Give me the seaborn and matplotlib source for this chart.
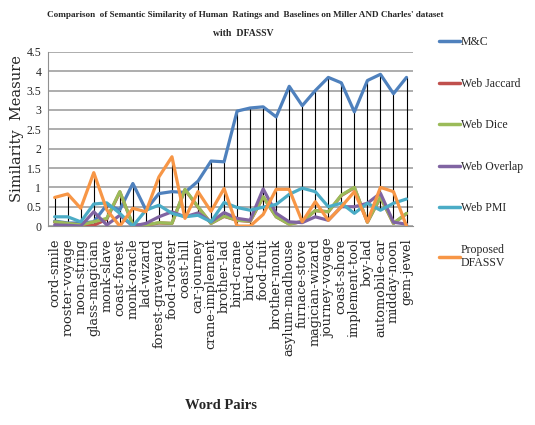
import numpy as np
import pandas as pd
import seaborn as sns
import matplotlib.pyplot as plt

pairs = ['cord-smile', 'rooster-voyage', 'noon-string', 'glass-magician', 'monk-slave',
         'coast-forest', 'monk-oracle', 'lad-wizard', 'forest-graveyard', 'food-rooster',
         'coast-hill', 'car-journey', 'crane-implement', 'brother-lad', 'bird-crane',
         'bird-cock', 'food-fruit', 'brother-monk', 'asylum-madhouse', 'furnace-stove',
         'magician-wizard', 'journey-voyage', 'coast-shore', 'implement-tool', 'boy-lad',
         'automobile-car', 'midday-noon', 'gem-jewel']

mc = [0.13, 0.08, 0.08, 0.11, 0.55, 0.42, 1.10, 0.42, 0.84, 0.89, 0.87, 1.16, 1.68, 1.66,
      2.97, 3.05, 3.08, 2.82, 3.61, 3.11, 3.50, 3.84, 3.70, 2.95, 3.76, 3.92, 3.42, 3.84]
web_jaccard = [0.10, 0.06, 0.03, 0.02, 0.18, 0.88, 0.03, 0.03, 0.08, 0.07, 0.94, 0.49, 0.07, 0.25,
               0.15, 0.12, 0.75, 0.24, 0.05, 0.12, 0.40, 0.37, 0.79, 0.99, 0.10, 0.74, 0.07, 0.32]
web_dice = [0.11, 0.07, 0.03, 0.11, 0.20, 0.89, 0.03, 0.03, 0.09, 0.07, 0.95, 0.50, 0.07, 0.26,
            0.15, 0.13, 0.76, 0.24, 0.05, 0.12, 0.40, 0.37, 0.80, 1.00, 0.10, 0.75, 0.07, 0.33]
web_overlap = [0.03, 0.02, 0.00, 0.37, 0.03, 0.28, 0.00, 0.07, 0.24, 0.37, 0.24, 0.34, 0.11, 0.35,
               0.20, 0.15, 0.96, 0.33, 0.11, 0.09, 0.24, 0.15, 0.50, 0.50, 0.59, 0.85, 0.10, 0.05]
web_pmi = [0.24, 0.24, 0.11, 0.57, 0.60, 0.33, 0.00, 0.41, 0.54, 0.33, 0.24, 0.28, 0.11, 0.61,
           0.48, 0.41, 0.49, 0.56, 0.82, 0.98, 0.89, 0.50, 0.59, 0.33, 0.59, 0.41, 0.59, 0.70]
dfassv = [0.74, 0.83, 0.46, 1.38, 0.42, 0.00, 0.46, 0.37, 1.27, 1.79, 0.20, 0.89, 0.38, 0.97,
          0.00, 0.00, 0.30, 0.95, 0.95, 0.11, 0.63, 0.15, 0.50, 0.89, 0.11, 1.00, 0.89, 0.00]

series = ['M&C', 'Web Jaccard', 'Web Dice', 'Web Overlap', 'Web PMI', 'Proposed\nDFASSV']
colors = ['#4F81BD', '#C0504D', '#9BBB59', '#8064A2', '#4BACC6', '#F79646']

wide = pd.DataFrame({'pair': pairs, series[0]: mc, series[1]: web_jaccard, series[2]: web_dice,
                     series[3]: web_overlap, series[4]: web_pmi, series[5]: dfassv})
df = wide.melt(id_vars='pair', var_name='method', value_name='score')

sns.set_style('white')
fig = plt.figure(figsize=(5.35, 4.25), dpi=100)
ax = fig.add_axes([0.09, 0.468, 0.682, 0.41])

# high-low lines like the excel chart
vals = wide[series].values
ax.vlines(np.arange(len(pairs)), vals.min(axis=1), vals.max(axis=1), color='black', lw=0.8, zorder=1)

sns.lineplot(data=df, x='pair', y='score', hue='method', hue_order=series,
             palette=colors, lw=2.3, sort=False, ax=ax, zorder=3)

ax.set_ylim(0, 4.5)
ax.set_xlim(-0.5, len(pairs) - 0.5)
ax.set_yticks(np.arange(0, 4.51, 0.5))
ax.set_yticklabels(['0', '0.5', '1', '1.5', '2', '2.5', '3', '3.5', '4', '4.5'],
                   family='Liberation Serif', fontsize=8.5)
ax.yaxis.grid(True, color='#a0a0a0', lw=1.2)
ax.set_axisbelow(True)
for s in ['top', 'right']:
    ax.spines[s].set_visible(False)
ax.spines['left'].set_color('#909090')
ax.spines['bottom'].set_color('#909090')
ax.tick_params(axis='y', length=3, color='#909090', pad=2)
ax.tick_params(axis='x', length=0, pad=9)
ax.set_xticks(range(len(pairs)))
ax.set_xticklabels(pairs, rotation=90, family='DejaVu Serif', fontsize=9.3)

ax.set_ylabel('Similarity  Measure', family='DejaVu Serif', fontsize=10.5)
ax.yaxis.set_label_coords(-0.065, 0.56)
ax.set_xlabel('')
fig.text(0.413, 0.047, 'Word Pairs', ha='center', va='center',
         family='Liberation Serif', fontweight='bold', fontsize=10.5)

fig.text(0.458, 0.965, "Comparison  of Semantic Similarity of Human  Ratings and  Baselines on Miller AND Charles' dataset",
         ha='center', va='center', family='Liberation Serif', fontweight='bold', fontsize=6.6)
fig.text(0.455, 0.922, 'with  DFASSV', ha='center', va='center',
         family='Liberation Serif', fontweight='bold', fontsize=7)

handles, labels = ax.get_legend_handles_labels()
leg = ax.legend(handles, labels, loc='upper left', bbox_to_anchor=(0.8, 0.94),
                bbox_transform=fig.transFigure, frameon=False, handlelength=1.8,
                handletextpad=0.1, labelspacing=2.5, prop={'family': 'Liberation Serif', 'size': 8.5})
for line in leg.get_lines():
    line.set_linewidth(2.5)

fig.savefig('out.png', dpi=100)
